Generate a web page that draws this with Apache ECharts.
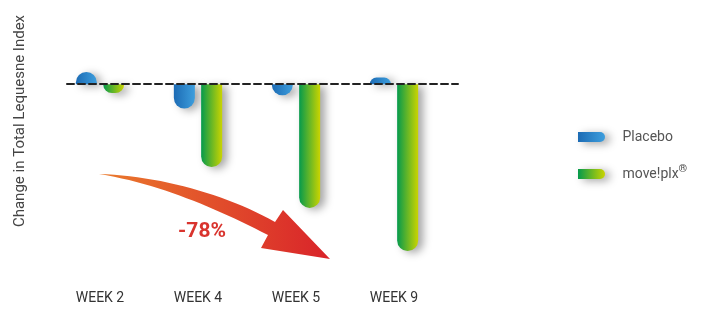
<!DOCTYPE html>
<html>
<head>
<meta charset="utf-8">
<script src="https://cdn.jsdelivr.net/npm/echarts@6/dist/echarts.min.js"></script>
<style>
  html, body { margin: 0; padding: 0; background: #fff; }
  #chart { width: 717px; height: 311px; }
</style>
</head>
<body>
<div id="chart"></div>
<script>
  // ===== data =====
  const weeks = ["WEEK 2", "WEEK 4", "WEEK 5", "WEEK 9"];
  const placebo = [0.55, -1.1, -0.5, 0.3];
  const moveplx = [-0.4, -3.75, -5.6, -7.55];
  const seriesNames = ["Placebo", "move!plx"];
  const reductionLabel = "-78%";
  const yTitle = "Change in Total Lequesne Index";

  // ===== helpers =====
  const R = 10.5;
  const rounded = v => (v >= 0 ? [R, R, 0, 0] : [0, 0, R, R]);
  const toItems = arr => arr.map(v => ({ value: v, itemStyle: { borderRadius: rounded(v) } }));
  const hGrad = (a, b) => new echarts.graphic.LinearGradient(0, 0, 1, 0, [
    { offset: 0, color: a }, { offset: 1, color: b }
  ]);

  // arrow outline (decoration) built from two cubic curves
  function cubic(p0, p1, p2, p3, n) {
    const out = [];
    for (let i = 0; i <= n; i++) {
      const t = i / n, u = 1 - t;
      out.push([
        u * u * u * p0[0] + 3 * u * u * t * p1[0] + 3 * u * t * t * p2[0] + t * t * t * p3[0],
        u * u * u * p0[1] + 3 * u * u * t * p1[1] + 3 * u * t * t * p2[1] + t * t * t * p3[1]
      ]);
    }
    return out;
  }
  const upper = cubic([99, 174], [160, 176], [225, 194], [275, 222], 24);
  const lower = cubic([268, 235], [215, 208], [160, 184], [99, 174], 24);
  const arrowPts = upper.concat([[283, 210], [330, 259], [261, 248]], lower);

  const shadow = { shadowBlur: 8, shadowColor: "rgba(0,0,0,0.35)", shadowOffsetX: 5, shadowOffsetY: 2 };
  const font = "Roboto, 'Noto Sans', sans-serif";

  const chart = echarts.init(document.getElementById("chart"));
  chart.setOption({
    animation: false,
    grid: [
      { left: 51, right: 274, top: 40, bottom: 28 },
      { left: 67, right: 259, top: 40, bottom: 28 }
    ],
    xAxis: [
      {
        type: "category", data: weeks, gridIndex: 0,
        axisLine: { show: false, onZero: false }, axisTick: { show: false },
        axisLabel: { color: "#333", fontSize: 14, fontFamily: font, margin: 8 }
      },
      {
        type: "category", data: weeks, gridIndex: 1, z: 5,
        axisLine: { show: true, onZero: true, lineStyle: { color: "#222", width: 2, type: [7, 4] } },
        axisTick: { show: false }, axisLabel: { show: false }
      }
    ],
    yAxis: [
      { type: "value", gridIndex: 0, min: -9, max: 2, show: false },
      { type: "value", gridIndex: 1, min: -9, max: 2, show: false }
    ],
    legend: {
      orient: "vertical", left: 573, top: 122,
      itemWidth: 30, itemHeight: 10, itemGap: 17,
      icon: "path://M0,0H22A5,5 0 0 1 22,10H0Z",
      itemStyle: shadow,
      data: seriesNames,
      formatter: n => (n === "move!plx" ? "move!plx{sup|®}" : n),
      textStyle: {
        color: "#555", fontSize: 14, fontFamily: font, lineHeight: 20, padding: [0, 0, 0, 11],
        rich: { sup: { fontSize: 11, fontWeight: "bold", color: "#555", verticalAlign: "top", lineHeight: 12 } }
      }
    },
    graphic: [
      {
        type: "text", x: 20, y: 121, rotation: Math.PI / 2,
        style: { text: yTitle, fill: "#444", fontSize: 15, fontFamily: font, align: "center", verticalAlign: "middle" }
      },
      {
        type: "polygon", z: 1,
        shape: { points: arrowPts },
        style: { fill: hGrad("#ea7a2c", "#d9232a") }
      },
      {
        type: "text", x: 202, y: 232,
        style: { text: reductionLabel, fill: "#d9342e", fontSize: 21, fontWeight: "bold", fontFamily: font, align: "center", verticalAlign: "middle" }
      }
    ],
    series: [
      {
        name: seriesNames[0], type: "bar", xAxisIndex: 0, yAxisIndex: 0,
        barWidth: 21, barGap: "30%",
        data: toItems(placebo),
        itemStyle: Object.assign({ color: hGrad("#1c6bb4", "#3d9edd") }, shadow)
      },
      {
        name: seriesNames[1], type: "bar", xAxisIndex: 0, yAxisIndex: 0,
        barWidth: 21, barGap: "30%",
        data: toItems(moveplx),
        itemStyle: Object.assign({ color: hGrad("#059a4c", "#cad400") }, shadow)
      }
    ]
  });
</script>
</body>
</html>
